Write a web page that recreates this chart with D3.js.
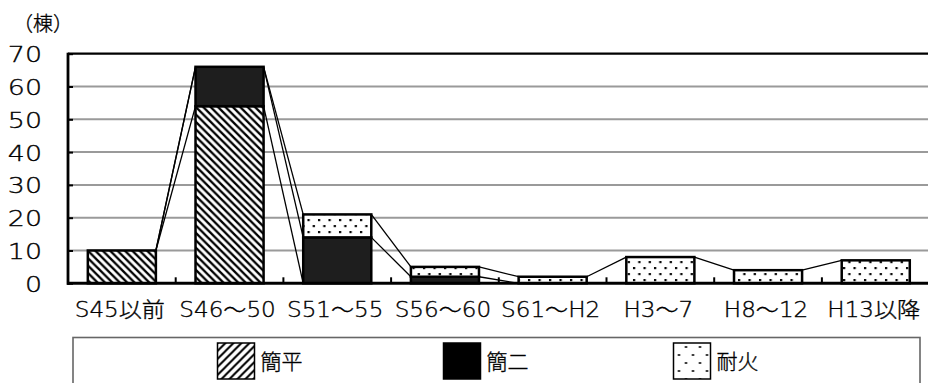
<!DOCTYPE html>
<html>
<head>
<meta charset="utf-8">
<script src="https://cdn.jsdelivr.net/npm/d3@7"></script>
<style>
  html, body { margin: 0; padding: 0; background: #fff; }
  svg { display: block; }
  text { font-family: "DejaVu Sans", "Noto Sans CJK JP", sans-serif; fill: #000; }
  .thin { font-weight: 200; stroke: #000; stroke-width: 0.35px; }
</style>
</head>
<body>
<svg id="chart" width="928" height="383"></svg>
<script>
// Building counts by construction period, stacked by structure type
const categories = ["S45以前", "S46～50", "S51～55", "S56～60", "S61～H2", "H3～7", "H8～12", "H13以降"];
const seriesNames = ["簡平", "簡二", "耐火"];
const kanpei = [10, 54, 0, 0, 0, 0, 0, 0];
const kanni  = [0, 12, 14, 2, 0, 0, 0, 0];
const taika  = [0, 0, 7, 3, 2, 8, 4, 7];
const yTicks = [0, 10, 20, 30, 40, 50, 60, 70];
const unitLabel = "（棟）";

const seriesValues = [kanpei, kanni, taika];

const svg = d3.select("#chart");
const plot = { left: 68, right: 929.6, top: 53.7, bottom: 283.3 };

const x = d3.scaleBand().domain(categories).range([plot.left, plot.right]).padding(0);
const y = d3.scaleLinear().domain([0, 70]).range([plot.bottom, plot.top]);
const barW = x.bandwidth() * 0.632;
const barLeft = c => x(c) + (x.bandwidth() - barW) / 2;

// fill patterns
const defs = svg.append("defs");
const hatch = defs.append("pattern").attr("id", "hatchBar")
  .attr("patternUnits", "userSpaceOnUse").attr("width", 7.4).attr("height", 7.4);
hatch.append("rect").attr("width", 7.4).attr("height", 7.4).attr("fill", "#fff");
hatch.append("path").attr("d", "M-1,-1 L8.4,8.4 M-1,6.4 L1,8.4 M6.4,-1 L8.4,1")
  .attr("stroke", "#000").attr("stroke-width", 2.3);

const hatchLeg = defs.append("pattern").attr("id", "hatchLegend")
  .attr("patternUnits", "userSpaceOnUse").attr("width", 8).attr("height", 8);
hatchLeg.append("rect").attr("width", 8).attr("height", 8).attr("fill", "#fff");
hatchLeg.append("path").attr("d", "M-1,9 L9,-1 M-1,1 L1,-1 M7,9 L9,7")
  .attr("stroke", "#000").attr("stroke-width", 2);

const dots = defs.append("pattern").attr("id", "dotsBar")
  .attr("patternUnits", "userSpaceOnUse").attr("width", 10.5).attr("height", 12)
  .attr("x", 2).attr("y", 1);
dots.append("rect").attr("width", 10.5).attr("height", 12).attr("fill", "#fff");
dots.append("rect").attr("x", 1).attr("y", 2).attr("width", 2.2).attr("height", 2.2).attr("fill", "#000");
dots.append("rect").attr("x", 6.25).attr("y", 8).attr("width", 2.2).attr("height", 2.2).attr("fill", "#000");

const dotsLeg = defs.append("pattern").attr("id", "dotsLegend")
  .attr("patternUnits", "userSpaceOnUse").attr("width", 14).attr("height", 16)
  .attr("x", 673).attr("y", 343);
dotsLeg.append("rect").attr("width", 14).attr("height", 16).attr("fill", "#fff");
dotsLeg.append("rect").attr("x", 3.5).attr("y", 4).attr("width", 2).attr("height", 2).attr("fill", "#000");
dotsLeg.append("rect").attr("x", 10.5).attr("y", 12).attr("width", 2).attr("height", 2).attr("fill", "#000");

const barFills = ["url(#hatchBar)", "#1e1e1e", "url(#dotsBar)"];
const legendFills = ["url(#hatchLegend)", "#000", "url(#dotsLegend)"];

// gridlines
svg.append("g").selectAll("line").data(yTicks.filter(t => t > 0 && t < 70)).join("line")
  .attr("x1", plot.left).attr("x2", 928)
  .attr("y1", d => y(d)).attr("y2", d => y(d))
  .attr("stroke", "#9a9a9a").attr("stroke-width", 2);
svg.append("line").attr("x1", plot.left).attr("x2", 928)
  .attr("y1", y(70)).attr("y2", y(70))
  .attr("stroke", "#000").attr("stroke-width", 2.2);

// stacked cumulative tops
const cum = seriesValues.map((_, k) =>
  categories.map((_, i) => d3.sum(seriesValues.slice(0, k + 1), s => s[i])));

// series lines between adjacent bars
const links = [];
for (let i = 0; i < categories.length - 1; i++) {
  for (let k = 0; k < seriesValues.length; k++) {
    links.push({ x1: barLeft(categories[i]) + barW, y1: y(cum[k][i]),
                 x2: barLeft(categories[i + 1]), y2: y(cum[k][i + 1]) });
  }
}
svg.append("g").selectAll("line").data(links).join("line")
  .attr("x1", d => d.x1).attr("y1", d => d.y1)
  .attr("x2", d => d.x2).attr("y2", d => d.y2)
  .attr("stroke", "#000").attr("stroke-width", 1.3);

// stacked bars
const segs = [];
categories.forEach((c, i) => {
  let base = 0;
  seriesValues.forEach((s, k) => {
    if (s[i] > 0) segs.push({ c, k, y0: base, y1: base + s[i] });
    base += s[i];
  });
});
svg.append("g").selectAll("rect").data(segs).join("rect")
  .attr("x", d => barLeft(d.c)).attr("width", barW)
  .attr("y", d => y(d.y1)).attr("height", d => y(d.y0) - y(d.y1))
  .attr("fill", d => barFills[d.k])
  .attr("stroke", "#000").attr("stroke-width", 2.5);

// axes
const yAxis = svg.append("g").attr("transform", `translate(${plot.left},0)`)
  .call(d3.axisLeft(y).tickValues(yTicks).tickSize(-5).tickPadding(26).tickFormat(d3.format("d")));
yAxis.select(".domain").remove();
yAxis.selectAll(".tick line").attr("stroke", "#000").attr("stroke-width", 2);
yAxis.selectAll(".tick text").attr("class", "thin").style("font-size", "22px")
  .attr("font-family", null).attr("dy", "0.36em")
  .attr("x", 0).attr("transform", "translate(-26,0) scale(1.22,1)");
svg.append("line").attr("x1", plot.left).attr("x2", plot.left)
  .attr("y1", plot.top - 1).attr("y2", plot.bottom + 1.5)
  .attr("stroke", "#000").attr("stroke-width", 2.8);

const xAxis = svg.append("g").attr("transform", `translate(0,${plot.bottom})`)
  .call(d3.axisBottom(x).tickSize(0).tickPadding(0));
xAxis.select(".domain").remove();
xAxis.selectAll(".tick text").attr("class", "thin").style("font-size", "21px")
  .attr("font-family", null).attr("y", 0).attr("dy", null)
  .attr("transform", "translate(-2,33.5) scale(1.1,1)");
svg.append("g").selectAll("line").data(categories.slice(1)).join("line")
  .attr("x1", d => x(d)).attr("x2", d => x(d))
  .attr("y1", plot.bottom).attr("y2", plot.bottom - 6)
  .attr("stroke", "#000").attr("stroke-width", 2);
svg.append("line").attr("x1", plot.left - 1).attr("x2", 928)
  .attr("y1", plot.bottom).attr("y2", plot.bottom)
  .attr("stroke", "#000").attr("stroke-width", 3);

// unit label
svg.append("text").attr("class", "thin").attr("x", 43).attr("y", 31).attr("text-anchor", "middle")
  .style("font-size", "20px").text(unitLabel);

// legend
svg.append("rect").attr("x", 73).attr("y", 337.5).attr("width", 847).attr("height", 60)
  .attr("fill", "none").attr("stroke", "#666").attr("stroke-width", 1.6);
const legendX = [217.5, 443.5, 673.5];
const leg = svg.append("g").selectAll("g").data(seriesNames).join("g")
  .attr("transform", (d, i) => `translate(${legendX[i]},343)`);
leg.append("rect").attr("width", 37).attr("height", 36)
  .attr("fill", (d, i) => legendFills[i])
  .attr("stroke", "#000").attr("stroke-width", 1.5);
leg.append("text").attr("class", "thin").attr("x", 43).attr("y", 18).attr("dy", "0.36em")
  .style("font-size", "21px").text(d => d);
</script>
</body>
</html>
